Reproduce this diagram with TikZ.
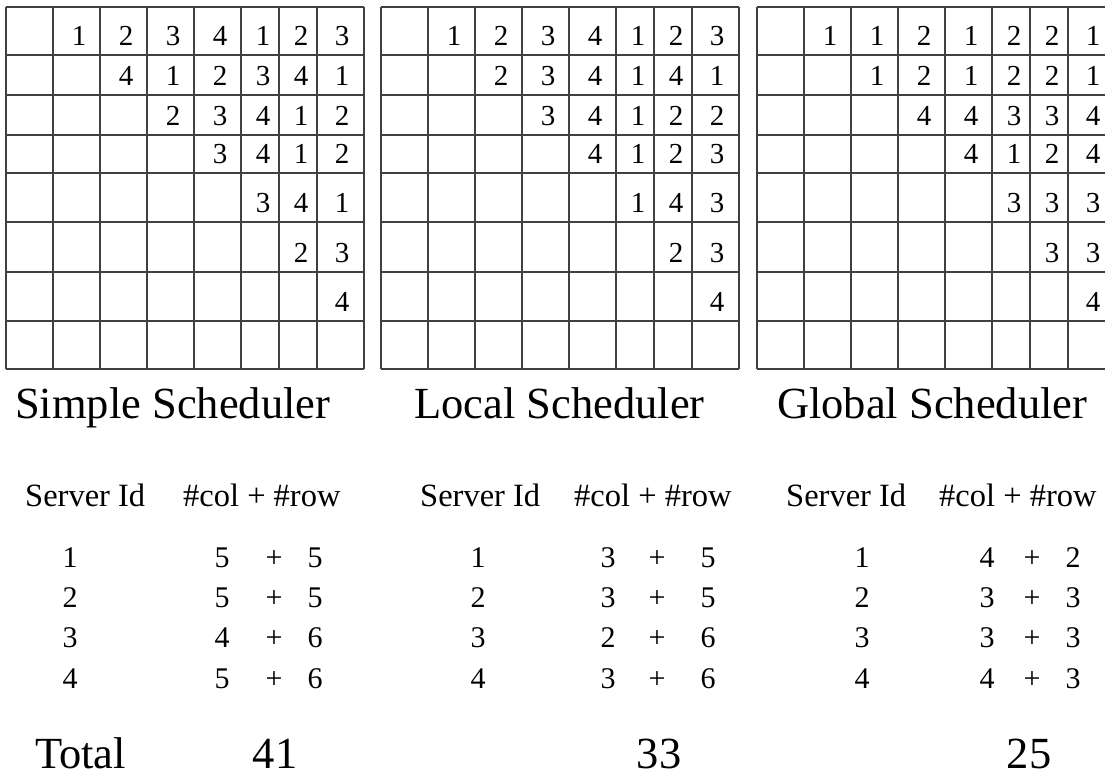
\documentclass[tikz,border=0pt]{standalone}
\usepackage{fontspec}
\setmainfont{Liberation Serif}
\usetikzlibrary{positioning}

\begin{document}
\begin{tikzpicture}[x=1pt, y=-1pt,
  gridline/.style={black!75, line width=1.4pt},
  cellnum/.style={anchor=base, inner sep=0pt, font=\fontsize{29}{32}\selectfont},
  title/.style={anchor=base west, inner sep=0pt, font=\fontsize{44.5}{50}\selectfont},
  head/.style={anchor=base west, inner sep=0pt, font=\fontsize{32.5}{36}\selectfont},
  entry/.style={anchor=base, inner sep=0pt, font=\fontsize{30}{34}\selectfont}]

  \useasboundingbox (0,0) rectangle (1105,777);
  \clip (0,0) rectangle (1105,777);

  % Grid lines (simple, local, global)
  \foreach \gx in {6,381,757} {
    \foreach \x in {0,47,94,141,188,235,273,311,358}
      \draw[gridline] (\gx+\x,7) -- (\gx+\x,369);
    \foreach \y in {7,55,95,135,173,222,272,321,369}
      \draw[gridline] (\gx,\y) -- (\gx+358,\y);
  }

  % Server of each block, simple scheduler
  \foreach \row [count=\r] in {{1,2,3,4,1,2,3},{4,1,2,3,4,1},{2,3,4,1,2},{3,4,1,2},{3,4,1},{2,3},{4}}
    \foreach \v [count=\k] in \row {
      \pgfmathsetmacro\cx{{25,73,120,167,214,257,295,336}[\r+\k-1]}
      \pgfmathsetmacro\by{{45,85,125,163,212,262,311}[\r-1]}
      \node[cellnum] (simple-\r-\k) at (6+\cx,\by) {\v};
    }

  % Server of each block, local scheduler
  \foreach \row [count=\r] in {{1,2,3,4,1,2,3},{2,3,4,1,4,1},{3,4,1,2,2},{4,1,2,3},{1,4,3},{2,3},{4}}
    \foreach \v [count=\k] in \row {
      \pgfmathsetmacro\cx{{25,73,120,167,214,257,295,336}[\r+\k-1]}
      \pgfmathsetmacro\by{{45,85,125,163,212,262,311}[\r-1]}
      \node[cellnum] (local-\r-\k) at (381+\cx,\by) {\v};
    }

  % Server of each block, global scheduler
  \foreach \row [count=\r] in {{1,1,2,1,2,2,1},{1,2,1,2,2,1},{4,4,3,3,4},{4,1,2,4},{3,3,3},{3,3},{4}}
    \foreach \v [count=\k] in \row {
      \pgfmathsetmacro\cx{{25,73,120,167,214,257,295,336}[\r+\k-1]}
      \pgfmathsetmacro\by{{45,85,125,163,212,262,311}[\r-1]}
      \node[cellnum] (global-\r-\k) at (757+\cx,\by) {\v};
    }

  % Titles
  \node[title] (tsimple) at (15,418) {Simple Scheduler};
  \node[title] (tlocal) at (414,418) {Local Scheduler};
  \node[title] (tglobal) at (777,418) {Global Scheduler};

  % Table headers
  \node[head] (hs1) at (25,506) {Server Id};
  \node[head] (hs2) at (183,506) {\#col + \#row};
  \node[head] (hl1) at (420,506) {Server Id};
  \node[head] (hl2) at (574,506) {\#col + \#row};
  \node[head] (hg1) at (786,506) {Server Id};
  \node[head] (hg2) at (939,506) {\#col + \#row};

  % Simple scheduler counts
  \node[entry] (sid1) at (70,567) {1};
  \node[entry] (sid2) at (70,607) {2};
  \node[entry] (sid3) at (70,647) {3};
  \node[entry] (sid4) at (70,688) {4};
  \node[entry] (sc1) at (222,567) {5};
  \node[entry] (sc2) at (222,607) {5};
  \node[entry] (sc3) at (222,647) {4};
  \node[entry] (sc4) at (222,688) {5};
  \node[entry] (sp1) at (274,567) {+};
  \node[entry] (sp2) at (274,607) {+};
  \node[entry] (sp3) at (274,647) {+};
  \node[entry] (sp4) at (274,688) {+};
  \node[entry] (sr1) at (315,567) {5};
  \node[entry] (sr2) at (315,607) {5};
  \node[entry] (sr3) at (315,647) {6};
  \node[entry] (sr4) at (315,688) {6};

  % Local scheduler counts
  \node[entry] (lid1) at (478,567) {1};
  \node[entry] (lid2) at (478,607) {2};
  \node[entry] (lid3) at (478,647) {3};
  \node[entry] (lid4) at (478,688) {4};
  \node[entry] (lc1) at (608,567) {3};
  \node[entry] (lc2) at (608,607) {3};
  \node[entry] (lc3) at (608,647) {2};
  \node[entry] (lc4) at (608,688) {3};
  \node[entry] (lp1) at (657,567) {+};
  \node[entry] (lp2) at (657,607) {+};
  \node[entry] (lp3) at (657,647) {+};
  \node[entry] (lp4) at (657,688) {+};
  \node[entry] (lr1) at (708,567) {5};
  \node[entry] (lr2) at (708,607) {5};
  \node[entry] (lr3) at (708,647) {6};
  \node[entry] (lr4) at (708,688) {6};

  % Global scheduler counts
  \node[entry] (gid1) at (862,567) {1};
  \node[entry] (gid2) at (862,607) {2};
  \node[entry] (gid3) at (862,647) {3};
  \node[entry] (gid4) at (862,688) {4};
  \node[entry] (gc1) at (987,567) {4};
  \node[entry] (gc2) at (987,607) {3};
  \node[entry] (gc3) at (987,647) {3};
  \node[entry] (gc4) at (987,688) {4};
  \node[entry] (gp1) at (1032,567) {+};
  \node[entry] (gp2) at (1032,607) {+};
  \node[entry] (gp3) at (1032,647) {+};
  \node[entry] (gp4) at (1032,688) {+};
  \node[entry] (gr1) at (1073,567) {2};
  \node[entry] (gr2) at (1073,607) {3};
  \node[entry] (gr3) at (1073,647) {3};
  \node[entry] (gr4) at (1073,688) {3};

  % Totals
  \node[title] (total) at (35,768) {Total};
  \node[title, anchor=base] (tots) at (275,768) {41};
  \node[title, anchor=base] (totl) at (659,768) {33};
  \node[title, anchor=base] (totg) at (1029,768) {25};
\end{tikzpicture}
\end{document}
